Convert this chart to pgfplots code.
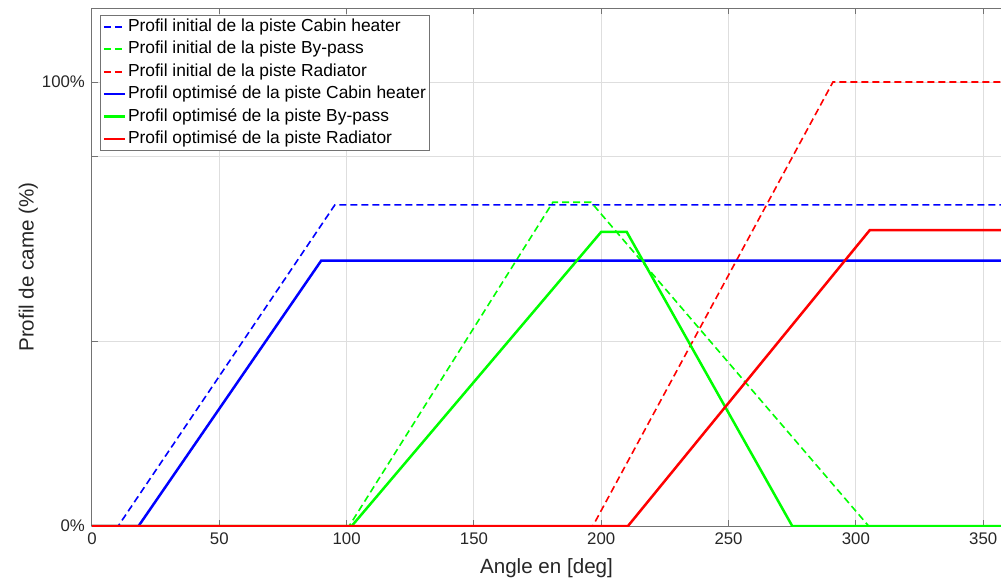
\documentclass[border=0pt]{standalone}
\usepackage{fontspec}
\setmainfont{Liberation Sans}
\usepackage{pgfplots}
\pgfplotsset{compat=1.18}
\definecolor{axgray}{rgb}{0.45,0.45,0.45}
\definecolor{txtgray}{rgb}{0.15,0.15,0.15}
\definecolor{gridgray}{rgb}{0.87,0.87,0.87}
\definecolor{mblue}{rgb}{0,0,1}
\definecolor{mgreen}{rgb}{0,1,0}
\definecolor{mred}{rgb}{1,0,0}
\begin{document}
\begin{tikzpicture}
\begin{axis}[name=ax, scale only axis, width=454.5pt, height=259pt,
 xmin=0, xmax=357, ymin=0, ymax=14,
 axis y line*=left,
 xtick={0,50,...,350}, ytick={0,5,10,12}, yticklabels={0\%,,,100\%},
 grid=major, major grid style={gridgray, line width=0.5pt},
 axis line style={axgray, line width=0.5pt},
 tick style={axgray, line width=0.5pt}, major tick length=3pt, tick align=inside,
 ticklabel style={font=\fontsize{8.4}{10}\selectfont, text=txtgray},
 /pgf/number format/assume math mode=true,
 xlabel={Angle en [deg]}, ylabel={Profil de came (\%)},
 label style={font=\fontsize{10.3}{12}\selectfont, text=txtgray},
 xlabel style={at={(axis description cs:0.5,-0.081)}, anchor=center},
 ylabel style={at={(axis description cs:-0.07,0.5)}, anchor=center},
 legend style={at={(axis description cs:0.0088,0.9865)}, anchor=north west,
   draw=axgray, line width=0.5pt, fill=white,
   font=\fontsize{8.7}{10}\selectfont, inner xsep=1pt, inner ysep=0.5pt,
   row sep=0.7pt, column sep=0pt,
   nodes={inner sep=1pt, text height=6.5pt, text depth=2pt}},
 legend cell align=left,
 legend image code/.code={\draw[#1] (0pt,0pt) -- (10.5pt,0pt);},
 clip mode=individual,
]
\addplot[mblue, line width=0.8pt, dash pattern=on 3.5pt off 2pt, legend image post style={line width=1pt}] coordinates {(0,0) (10.3,0) (95.4,8.68) (360,8.68)};
\addlegendentry{Profil initial de la piste Cabin heater}
\addplot[mgreen, line width=0.8pt, dash pattern=on 3.5pt off 2pt, legend image post style={line width=1pt}] coordinates {(0,0) (101,0) (181,8.75) (196,8.75) (305,0) (360,0)};
\addlegendentry{Profil initial de la piste By-pass}
\addplot[mred, line width=0.8pt, dash pattern=on 3.5pt off 2pt, legend image post style={line width=1pt}] coordinates {(0,0) (196.7,0) (291,12) (360,12)};
\addlegendentry{Profil initial de la piste Radiator}
\addplot[mblue, line width=1.25pt] coordinates {(0,0) (18.3,0) (90,7.17) (360,7.17)};
\addlegendentry{Profil optimisé de la piste Cabin heater}
\addplot[mgreen, line width=1.25pt] coordinates {(0,0) (102,0) (200,7.95) (210,7.95) (275,0) (360,0)};
\addlegendentry{Profil optimisé de la piste By-pass}
\addplot[mred, line width=1.25pt] coordinates {(0,0) (210.5,0) (305.5,8.0) (360,8.0)};
\addlegendentry{Profil optimisé de la piste Radiator}
\end{axis}
\pgfresetboundingbox
\path[use as bounding box] ([xshift=-46pt,yshift=-27pt]ax.south west) rectangle ([yshift=4pt]ax.north east);
\end{tikzpicture}
\end{document}
